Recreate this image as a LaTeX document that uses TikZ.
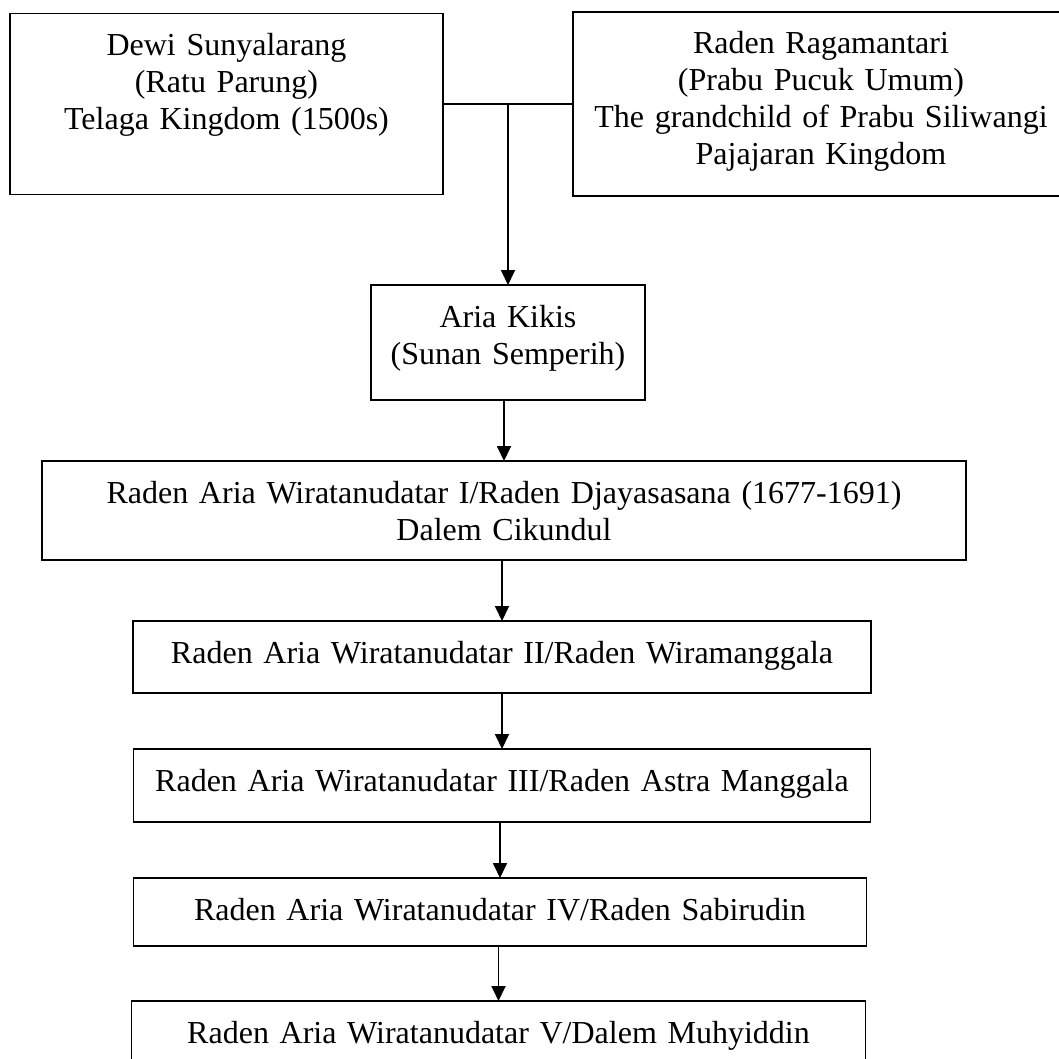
\documentclass[tikz,border=0pt]{standalone}
\usepackage{fontspec}
\setmainfont{Liberation Serif}
\usetikzlibrary{positioning, arrows.meta}

\begin{document}
\begin{tikzpicture}[
    x=0.5pt, y=-0.5pt,
    person/.style={
        rectangle,
        draw,
        line width=0.9pt,
        inner sep=0pt,
        outer sep=0pt,
        align=center,
        text height=21pt,
        font=\fontsize{16pt}{18.5pt}\selectfont
    },
    link/.style={
        line width=0.9pt
    },
    arrow/.style={
        link,
        -{Triangle[length=7.5pt, width=7pt]}
    }
]
\useasboundingbox (0,0) rectangle (1059,1059);

% ===== parents =====
\node[person, text width=216.5pt, text depth=69.5pt] (sunyalarang) at (226.5,104)
    {Dewi Sunyalarang\\(Ratu Parung)\\Telaga Kingdom (1500s)};
\node[person, text width=248pt, text depth=71pt] (ragamantari) at (821,104)
    {Raden Ragamantari\\(Prabu Pucuk Umum)\\The grandchild of Prabu Siliwangi\\Pajajaran Kingdom};

% ===== descendants =====
\node[person, text width=137pt, text depth=36.5pt] (kikis) at (508,342.5)
    {Aria Kikis\\(Sunan Semperih)};
\node[person, text width=462pt, text depth=28.5pt, below=30.5pt of kikis, xshift=-2pt] (wira1)
    {Raden Aria Wiratanudatar I/Raden Djayasasana (1677-1691)\\Dalem Cikundul};
\node[person, text width=369pt, text depth=15pt, below=30.5pt of wira1, xshift=-1pt] (wira2)
    {Raden Aria Wiratanudatar II/Raden Wiramanggala};
\node[person, text width=368.5pt, text depth=15.5pt, below=28pt of wira2] (wira3)
    {Raden Aria Wiratanudatar III/Raden Astra Manggala};
\node[person, text width=366.5pt, text depth=13pt, below=28pt of wira3, xshift=-1pt] (wira4)
    {Raden Aria Wiratanudatar IV/Raden Sabirudin};
\node[person, text width=367pt, text depth=14pt, below=27.5pt of wira4, xshift=-0.75pt] (wira5)
    {Raden Aria Wiratanudatar V/Dalem Muhyiddin};

% ===== marriage line =====
\draw[link] (sunyalarang.east) -- (ragamantari.west |- sunyalarang.east);
\coordinate (union) at (kikis.north |- sunyalarang.east);
\draw[arrow] (union) -- (kikis.north);

% ===== line of descent =====
\foreach \i/\j in {kikis/wira1, wira1/wira2, wira2/wira3, wira3/wira4, wira4/wira5} {
    \draw[arrow] (\j.north |- \i.south) -- (\j.north);
}

\end{tikzpicture}
\end{document}
